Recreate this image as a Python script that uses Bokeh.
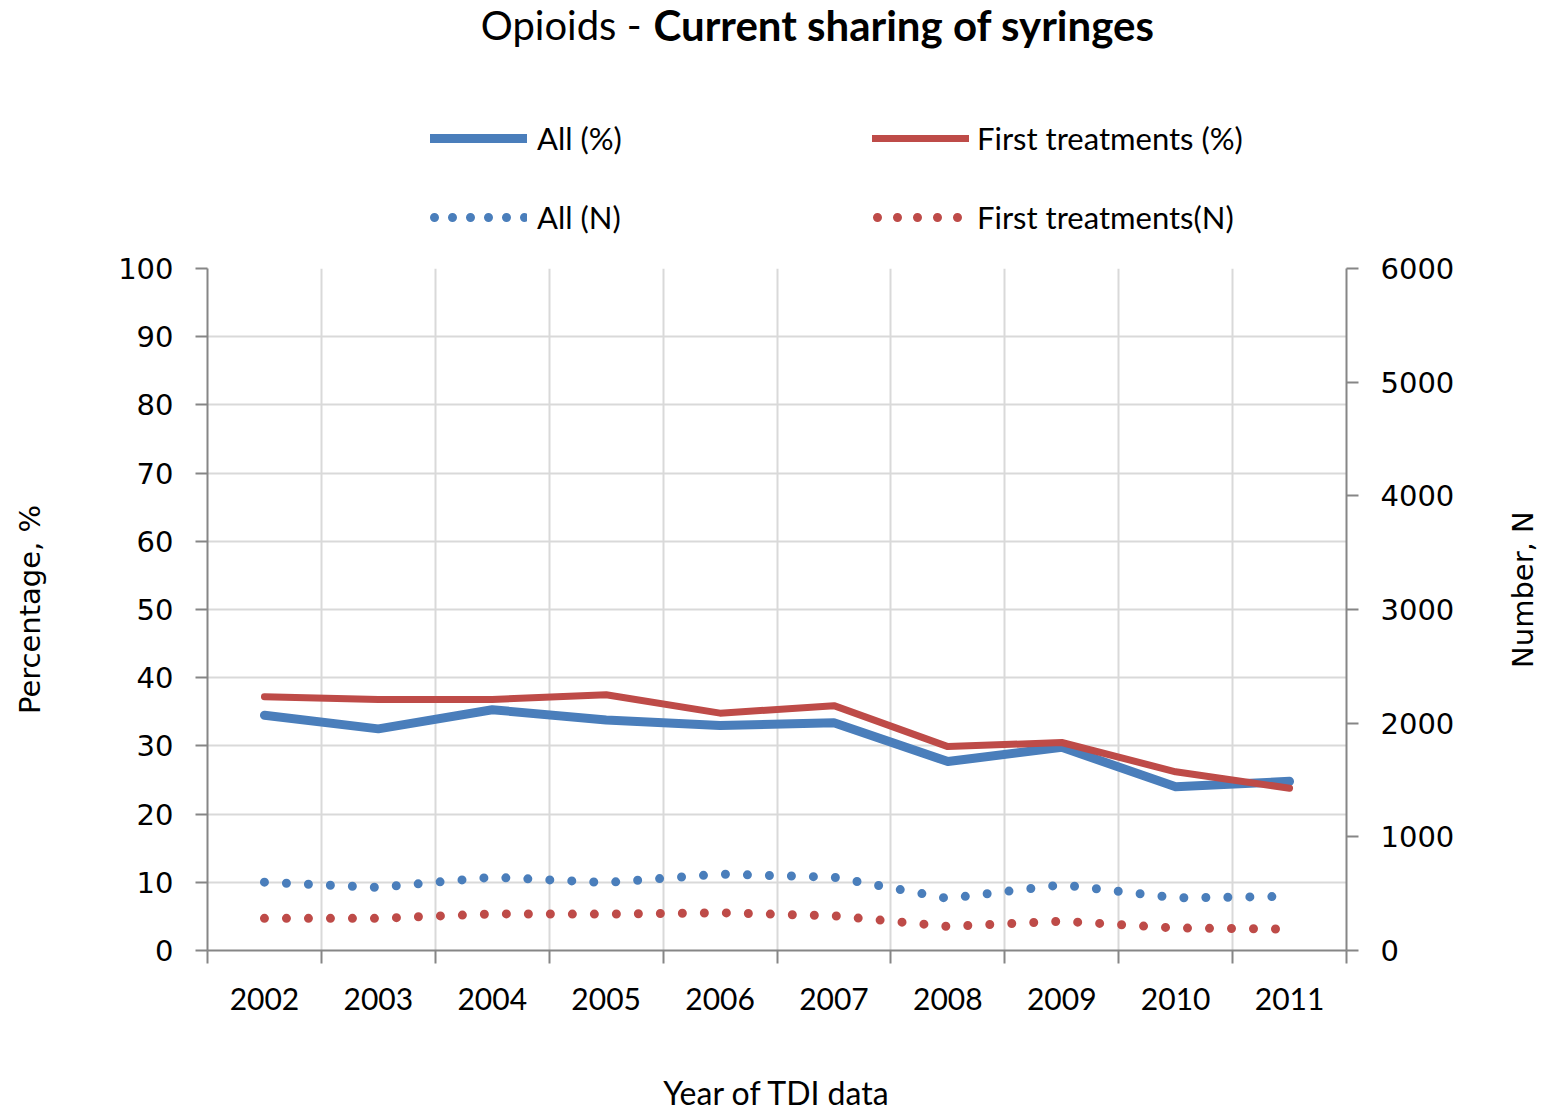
from math import pi
from bokeh.plotting import figure
from bokeh.layouts import column, row
from bokeh.models import Range1d, LinearAxis, FixedTicker, Legend, LegendItem, Label
from bokeh.embed import file_html
from bokeh.resources import INLINE

# ---- data ----
years = ["2002", "2003", "2004", "2005", "2006", "2007", "2008", "2009", "2010", "2011"]
all_pct = [34.5, 32.5, 35.3, 33.8, 33.0, 33.4, 27.7, 29.8, 24.0, 24.8]
first_pct = [37.2, 36.8, 36.8, 37.5, 34.8, 35.9, 29.9, 30.5, 26.2, 23.8]
all_n = [601, 555, 645, 598, 672, 645, 458, 578, 463, 476]
first_n = [283, 283, 322, 320, 332, 305, 212, 258, 198, 188]
pct_ticks = [0, 10, 20, 30, 40, 50, 60, 70, 80, 90, 100]
n_ticks = [0, 1000, 2000, 3000, 4000, 5000, 6000]

BLUE = "#4A7EBB"
RED = "#BE4B48"
AXIS = "#868686"
GRID = "#D9D9D9"

TOTAL_W = 1541
TOP_H = 240
MAIN_H = 875
RIGHT_W = 51
MAIN_W = TOTAL_W - RIGHT_W
FRAME_BOTTOM = 950 - TOP_H

n = len(years)
xs = [i + 0.5 for i in range(n)]
bounds = list(range(n + 1))

line_styles = {
    "all_pct": dict(line_color=BLUE, line_width=9, line_cap="round", line_join="round"),
    "first_pct": dict(line_color=RED, line_width=7, line_cap="round", line_join="round"),
    "all_n": dict(line_color=BLUE, line_width=9, line_cap="round", line_dash="0 22"),
    "first_n": dict(line_color=RED, line_width=9, line_cap="round", line_dash="0 22"),
}
legend_styles = {
    "all_pct": dict(line_color=BLUE, line_width=9, line_cap="round"),
    "first_pct": dict(line_color=RED, line_width=7, line_cap="round"),
    "all_n": dict(line_color=BLUE, line_width=9, line_cap="round", line_dash="0 18",
                  line_dash_offset=14),
    "first_n": dict(line_color=RED, line_width=9, line_cap="round", line_dash="0 20",
                    line_dash_offset=15),
}

# ---------------- main chart ----------------
p = figure(width=MAIN_W, height=MAIN_H, x_range=Range1d(0, n), y_range=Range1d(0, 100),
           output_backend="svg", toolbar_location=None,
           min_border_left=207, min_border_right=MAIN_W - 1346,
           min_border_top=28, min_border_bottom=MAIN_H - FRAME_BOTTOM)
p.outline_line_color = None
p.background_fill_color = "white"
p.border_fill_color = "white"
p.extra_y_ranges = {"n": Range1d(0, 6000)}

p.line(xs, all_pct, **line_styles["all_pct"])
p.line(xs, first_pct, **line_styles["first_pct"])
p.line(xs, all_n, y_range_name="n", **line_styles["all_n"])
p.line(xs, first_n, y_range_name="n", **line_styles["first_n"])

yax = p.yaxis[0]
yax.ticker = FixedTicker(ticks=pct_ticks)
yax.axis_label = "Percentage, %"
yax.axis_label_standoff = 68
yax.axis_label_text_font = "DejaVu Sans"
yax.axis_label_text_font_size = "29px"
yax.axis_label_text_font_style = "normal"
yax.axis_label_text_color = "black"

right = LinearAxis(y_range_name="n", ticker=FixedTicker(ticks=n_ticks))
p.add_layout(right, "right")
for ax in (yax, right):
    ax.axis_line_color = AXIS
    ax.axis_line_width = 2
    ax.major_tick_line_color = AXIS
    ax.major_tick_line_width = 2
    ax.major_tick_out = 12
    ax.major_tick_in = 0
    ax.minor_tick_line_color = None
    ax.major_label_text_font = "DejaVu Sans"
    ax.major_label_text_font_size = "29px"
    ax.major_label_text_color = "black"
    ax.major_label_standoff = 22

xax = p.xaxis[0]
xax.ticker = FixedTicker(ticks=xs, minor_ticks=bounds)
xax.major_label_overrides = {x: y for x, y in zip(xs, years)}
xax.axis_line_color = AXIS
xax.axis_line_width = 2
xax.major_tick_line_color = None
xax.major_tick_out = 0
xax.major_tick_in = 0
xax.minor_tick_line_color = AXIS
xax.minor_tick_line_width = 2
xax.minor_tick_out = 13
xax.minor_tick_in = 0
xax.major_label_text_font = "Lato"
xax.major_label_text_font_size = "30px"
xax.major_label_text_color = "black"
xax.major_label_standoff = 24
xax.axis_label = "Year of TDI data"
xax.axis_label_standoff = 60
xax.axis_label_text_font = "Lato"
xax.axis_label_text_font_size = "32px"
xax.axis_label_text_font_style = "normal"
xax.axis_label_text_color = "black"

p.xgrid.ticker = FixedTicker(ticks=bounds)
p.xgrid.grid_line_color = GRID
p.xgrid.grid_line_width = 2
p.ygrid.grid_line_color = GRID
p.ygrid.grid_line_width = 2

# ---------------- top: title + legend ----------------
top = figure(width=TOTAL_W, height=TOP_H, x_range=Range1d(0, TOTAL_W), y_range=Range1d(TOP_H, 0),
             output_backend="svg", toolbar_location=None,
             x_axis_location=None, y_axis_location=None, min_border=0)
top.grid.visible = False
top.outline_line_color = None
top.background_fill_color = "white"
top.border_fill_color = "white"

# legend proxies (single off-canvas point, draws nothing)
lr = {k: top.line(x=[-50], y=[-50], **v) for k, v in legend_styles.items()}

common = dict(orientation="vertical", glyph_width=97, glyph_height=36, label_height=36,
              spacing=41, padding=0, margin=0, border_line_color=None,
              background_fill_alpha=0, label_text_font="Lato", label_text_font_size="31px",
              label_text_color="black")
leg1 = Legend(items=[LegendItem(label="All (%)", renderers=[lr["all_pct"]]),
                     LegendItem(label="All (N)", renderers=[lr["all_n"]])],
              location=(430, 4), label_standoff=10, **common)
leg2 = Legend(items=[LegendItem(label="First treatments (%)", renderers=[lr["first_pct"]]),
                     LegendItem(label="First treatments(N)", renderers=[lr["first_n"]])],
              location=(872, 4), label_standoff=8, **common)
top.add_layout(leg1)
top.add_layout(leg2)

top.add_layout(Label(x=641, y=24, text="Opioids -", text_align="right",
                     text_baseline="alphabetic", text_font="Lato", text_font_size="40px",
                     text_color="black"))
top.add_layout(Label(x=653, y=24, text="Current sharing of syringes", text_align="left",
                     text_baseline="alphabetic", text_font="Lato", text_font_size="42px",
                     text_font_style="bold", text_color="black"))

# ---------------- right: secondary axis title ----------------
side = figure(width=RIGHT_W, height=MAIN_H, x_range=Range1d(0, RIGHT_W), y_range=Range1d(MAIN_H, 0),
              output_backend="svg", toolbar_location=None,
              x_axis_location=None, y_axis_location=None, min_border=0)
side.grid.visible = False
side.outline_line_color = None
side.background_fill_color = "white"
side.border_fill_color = "white"
side.add_layout(Label(x=32, y=412, text="Number, N", angle=pi / 2, text_align="center",
                      text_baseline="middle", text_font="DejaVu Sans", text_font_size="29px",
                      text_color="black"))

layout = column(top, row(p, side, spacing=0), spacing=0)
open("out.html", "w").write(file_html(layout, INLINE))
